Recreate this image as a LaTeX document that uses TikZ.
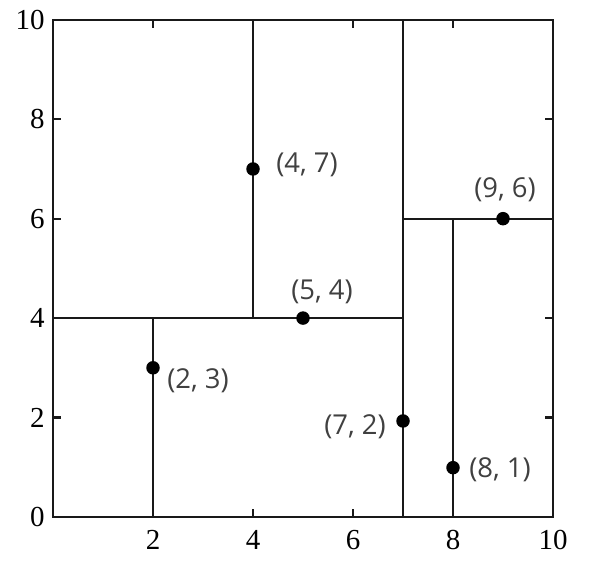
\documentclass[tikz,border=0pt]{standalone}
\usepackage{fontspec}
\setmainfont{Liberation Serif}
\newfontfamily\lblfont{Open Sans}
\definecolor{lblgray}{HTML}{404040}
\begin{document}
\begin{tikzpicture}[x=1cm,y=0.994cm,
  ln/.style={line width=1.3pt,black!90},
  tk/.style={line width=1.3pt,black!90},
  pt/.style={circle,fill=black,inner sep=0pt,minimum size=0.27cm},
  lbl/.style={font=\lblfont\fontsize{15.6}{18}\selectfont,text=lblgray,inner sep=0pt},
  ax/.style={font=\fontsize{16.5}{18}\selectfont,inner sep=0pt}]
\useasboundingbox (-1.06,-0.926) rectangle (10.9,10.40);
% frame
\draw[ln] (0,0) rectangle (10,10);
% ticks
\foreach \v in {2,4,6,8}{
  \draw[tk] (\v,0) -- ++(0,0.16);
  \draw[tk] (\v,10) -- ++(0,-0.16);
  \draw[tk] (0,\v) -- ++(0.16,0);
  \draw[tk] (10,\v) -- ++(-0.16,0);
}
% partition lines
\draw[ln] (7,0) -- (7,10);
\draw[ln] (0,4) -- (7,4);
\draw[ln] (4,4) -- (4,10);
\draw[ln] (2,0) -- (2,4);
\draw[ln] (7,6) -- (10,6);
\draw[ln] (8,0) -- (8,6);
% axis labels
\foreach \v in {0,2,4,6,8,10}{
  \node[ax,anchor=east] (yl\v) at (-0.16,\v) {\v};
}
\foreach \v in {2,4,6,8,10}{
  \node[ax] (xl\v) at (\v,-0.46) {\v};
}
% points
\node[pt] (p47) at (4,7) {};
\node[pt] (p54) at (5,4) {};
\node[pt] (p96) at (9,6) {};
\node[pt] (p23) at (2,3) {};
\node[pt] (p72) at (7,1.93) {};
\node[pt] (p81) at (8,0.99) {};
% point labels
\node[lbl] (l47) at (5.08,7.08) {(4, 7)};
\node[lbl] (l54) at (5.38,4.53) {(5, 4)};
\node[lbl] (l96) at (9.04,6.58) {(9, 6)};
\node[lbl] (l23) at (2.9,2.73) {(2, 3)};
\node[lbl] (l72) at (6.04,1.81) {(7, 2)};
\node[lbl] (l81) at (8.94,0.94) {(8, 1)};
\end{tikzpicture}
\end{document}
